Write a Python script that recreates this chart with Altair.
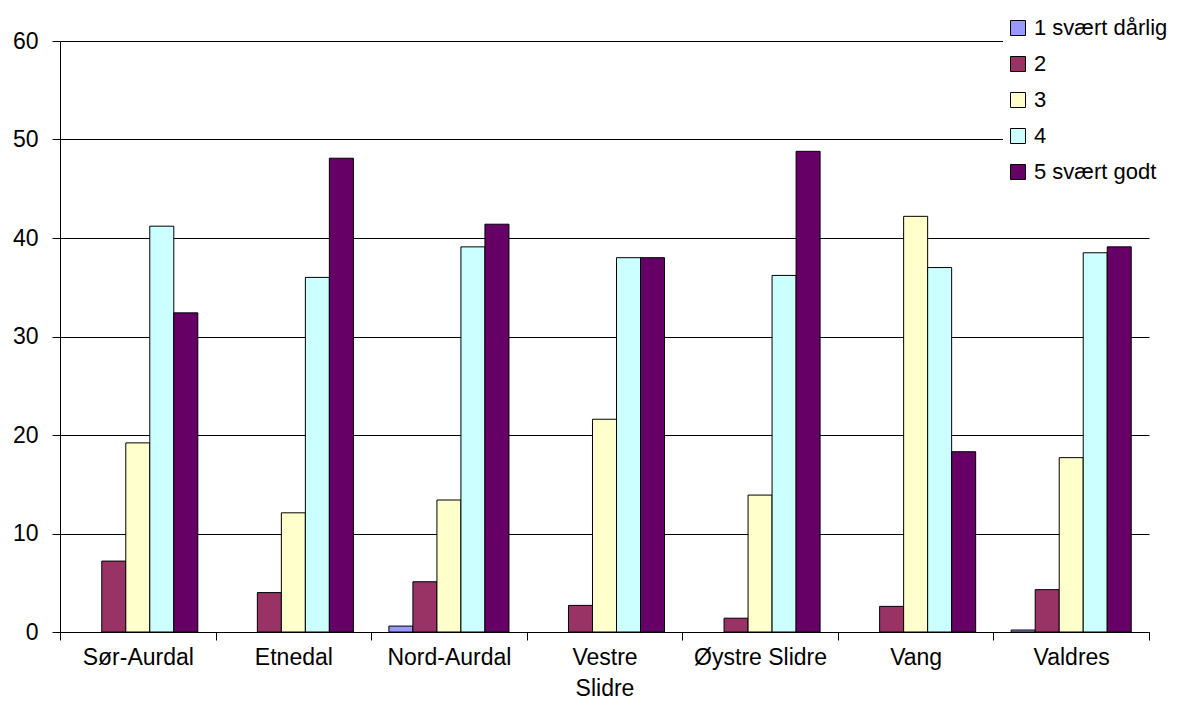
import altair as alt
import pandas as pd

municipalities = ["Sør-Aurdal", "Etnedal", "Nord-Aurdal", "Vestre Slidre",
                  "Øystre Slidre", "Vang", "Valdres"]
ratings = ["1 svært dårlig", "2", "3", "4", "5 svært godt"]

r1 = [0, 0, 0.6, 0, 0, 0, 0.2]
r2 = [7.2, 4.0, 5.1, 2.7, 1.4, 2.6, 4.3]
r3 = [19.2, 12.1, 13.4, 21.6, 13.9, 42.2, 17.7]
r4 = [41.2, 36.0, 39.1, 38.0, 36.2, 37.0, 38.5]
r5 = [32.4, 48.1, 41.4, 38.0, 48.8, 18.3, 39.1]

colors = ["#9999FF", "#993366", "#FFFFCC", "#CCFFFF", "#660066"]
y_ticks = [0, 10, 20, 30, 40, 50, 60]

series = [r1, r2, r3, r4, r5]
rows = []
for rating, vals in zip(ratings, series):
    for m, v in zip(municipalities, vals):
        if v > 0:
            rows.append({"municipality": m, "rating": rating, "value": v})
df = pd.DataFrame(rows)

FONT = "Liberation Sans"

chart = alt.Chart(df).mark_bar(stroke="black", strokeWidth=1).encode(
    x=alt.X(
        "municipality:N",
        sort=municipalities,
        scale=alt.Scale(domain=municipalities, paddingInner=0, paddingOuter=0),
        axis=alt.Axis(
            title=None, labelAngle=0, tickBand="extent", tickSize=8,
            labelPadding=6, labelFontSize=23, labelFont=FONT,
            labelColor="black", labelBaseline="top", labelLineHeight=31,
            labelFlush=False, labelOverlap=False,
            domainColor="black", tickColor="black",
            labelExpr="datum.value == 'Vestre Slidre' ? ['Vestre', 'Slidre'] : datum.value",
        ),
    ),
    xOffset=alt.XOffset(
        "rating:N",
        sort=ratings,
        scale=alt.Scale(domain=ratings, paddingInner=0, paddingOuter=0.74),
    ),
    y=alt.Y(
        "value:Q",
        scale=alt.Scale(domain=[0, 60], nice=False),
        axis=alt.Axis(
            title=None, values=y_ticks, tickSize=8, labelPadding=14,
            labelFontSize=23, labelFont=FONT, labelColor="black",
            grid=True, gridColor="black", gridWidth=1,
            domainColor="black", tickColor="black",
        ),
    ),
    color=alt.Color(
        "rating:N",
        sort=ratings,
        scale=alt.Scale(domain=ratings, range=colors),
        legend=alt.Legend(
            title=None, orient="none", legendX=943, legendY=-28,
            fillColor="white", padding=4, symbolType="square",
            symbolSize=225, symbolStrokeColor="black", symbolStrokeWidth=1,
            symbolOpacity=1, labelFontSize=22, labelFont=FONT,
            labelColor="black", rowPadding=14, labelOffset=5,
            labelLimit=400,
        ),
    ),
).properties(
    width=1089,
    height=591,
    background="white",
    padding={"left": 52, "top": 33, "right": 19, "bottom": 68},
    autosize="none",
).configure_view(strokeWidth=0)

chart.save("out.html", embed_options={"renderer": "svg", "actions": False})
